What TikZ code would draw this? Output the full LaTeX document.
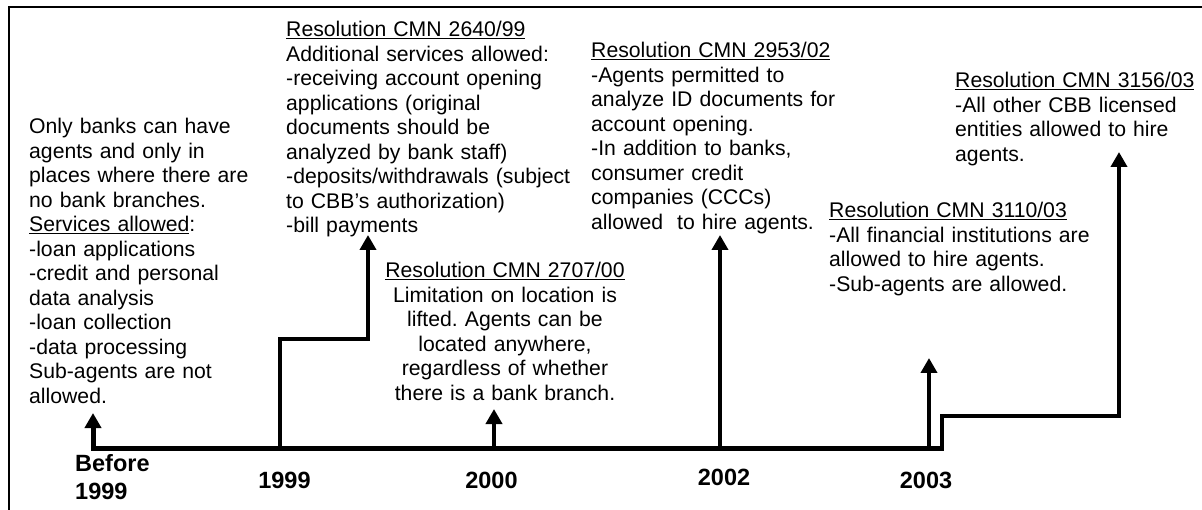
\documentclass[tikz,border=0pt]{standalone}
\usepackage{fontspec}
\setmainfont{Liberation Sans}
\usetikzlibrary{arrows.meta}
\frenchspacing
\begin{document}
\begin{tikzpicture}[x=1pt,y=-1pt,
  txt/.style={font=\fontsize{21.2}{24.5}\selectfont, inner sep=0pt, anchor=base west, align=left},
  yr/.style={font=\fontsize{23.5}{28.5}\selectfont\bfseries, inner sep=0pt, anchor=base},
  axisline/.style={line width=5pt},
  conn/.style={line width=4pt, -{Triangle[width=16pt,length=15pt]}},
  stepline/.style={line width=4pt},
  frameline/.style={line width=2pt}]
\useasboundingbox (0,0) rectangle (1202,510);
% frame (top and left edges)
\coordinate (fbl) at (9,510);
\coordinate (ftl) at (9,7);
\coordinate (ftr) at (1202,7);
\draw[frameline] (fbl) -- (ftl) -- (ftr);

% text blocks
\node[txt, text width=230pt] (before) at (29,134) {Only banks can have\\agents and only in\\places where there are\\no bank branches.\\\underline{Services allowed}:\\-loan applications\\-credit and personal\\data analysis\\-loan collection\\-data processing\\Sub-agents are not\\allowed.};
\node[txt, text width=300pt] (r2640) at (286,37) {\underline{Resolution CMN 2640/99}\\Additional services allowed:\\-receiving account opening\\applications (original\\documents should be\\analyzed by bank staff)\\-deposits/withdrawals (subject\\to CBB’s authorization)\\-bill payments};
\node[txt, text width=270pt, anchor=base, align=center] (r2707) at (505,278) {\underline{Resolution CMN 2707/00}\\Limitation on location is\\lifted. Agents can be\\located anywhere,\\regardless of whether\\there is a bank branch.};
\node[txt, text width=260pt] (r2953) at (591,58) {\underline{Resolution CMN 2953/02}\\-Agents permitted to\\analyze ID documents for\\account opening.\\-In addition to banks,\\consumer credit\\companies (CCCs)\\allowed\ \ to hire agents.};
\node[txt, text width=280pt] (r3110) at (829,218) {\underline{Resolution CMN 3110/03}\\-All financial institutions are\\allowed to hire agents.\\-Sub-agents are allowed.};
\node[txt, text width=245pt] (r3156) at (955,88) {\underline{Resolution CMN 3156/03}\\-All other CBB licensed\\entities allowed to hire\\agents.};

% year labels
\node[yr, anchor=base west, align=left, text width=100pt] (ybefore) at (75,471) {Before\\1999};
\node[yr] (y1999) at (284.5,488) {1999};
\node[yr] (y2000) at (491.5,488) {2000};
\node[yr] (y2002) at (724,485) {2002};
\node[yr] (y2003) at (926,488) {2003};

% timeline coordinates
\coordinate (b0) at (93,448);
\coordinate (tip0) at (93,413);
\coordinate (b1) at (280,448);
\coordinate (k1a) at (280,339);
\coordinate (k1b) at (368,339);
\coordinate (tip1) at (368,235);
\coordinate (b2) at (494,448);
\coordinate (tip2) at (494,409);
\coordinate (b3) at (720,448);
\coordinate (tip3) at (720,235);
\coordinate (b4) at (929,448);
\coordinate (tip4) at (929,358);
\coordinate (bend) at (942,448);
\coordinate (k5a) at (942,416);
\coordinate (k5b) at (1119,416);
\coordinate (tip5) at (1119,152);

% main axis with arrow to "Before 1999" text
\draw[axisline, -{Triangle[width=16pt,length=15pt]}] (bend) -- (b0) -- (tip0);
% connectors
\draw[stepline, -{Triangle[width=16pt,length=15pt]}] (b1) -- (k1a) -- (k1b) -- (tip1);
\draw[conn] (b2) -- (tip2);
\draw[conn] (b3) -- (tip3);
\draw[conn] (b4) -- (tip4);
\draw[stepline, -{Triangle[width=16pt,length=15pt]}] ([yshift=-2.5pt]bend) -- (k5a) -- (k5b) -- (tip5);
\end{tikzpicture}
\end{document}
